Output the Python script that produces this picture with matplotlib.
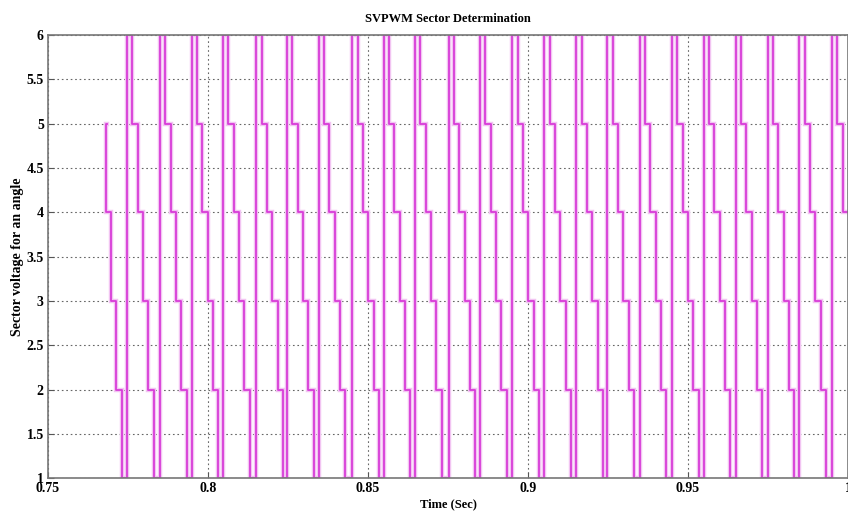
import matplotlib
matplotlib.use("Agg")
import matplotlib.pyplot as plt
import numpy as np

# times (s) where the sector jumps from 1 back to 6
jump_times = [0.7747, 0.7850, 0.7949, 0.8047, 0.8151, 0.8247, 0.8346, 0.8451,
              0.8549, 0.8647, 0.8752, 0.8850, 0.8951, 0.9051, 0.9151, 0.9248,
              0.9349, 0.9450, 0.9549, 0.9649, 0.9749, 0.9848, 0.9950]
sector_order = [6, 5, 4, 3, 2, 1]
period = 0.01
t_start, sector_start = 0.7683, 5
t_end = 1.0

x_ticks = [0.75, 0.8, 0.85, 0.9, 0.95, 1.0]
x_ticklabels = ["0.75", "0.8", "0.85", "0.9", "0.95", "1"]
y_ticks = [1, 1.5, 2, 2.5, 3, 3.5, 4, 4.5, 5, 5.5, 6]
y_ticklabels = ["1", "1.5", "2", "2.5", "3", "3.5", "4", "4.5", "5", "5.5", "6"]

# build the staircase: each sector lasts a sixth of the period
step = period / len(sector_order)
edges = [t_start]
levels = [sector_start]
first = jump_times[0]
for s in range(sector_start - 1, 0, -1):
    edges.append(first - s * step)
    levels.append(s)
for tj in jump_times:
    for i, s in enumerate(sector_order):
        te = tj + i * step
        if te < t_end:
            edges.append(te)
            levels.append(s)
edges.append(t_end)

xs, ys = [], []
for i, lv in enumerate(levels):
    xs += [edges[i], edges[i + 1]]
    ys += [lv, lv]

plt.rcParams["font.family"] = ["Liberation Serif", "DejaVu Serif"]
plt.rcParams["font.weight"] = "bold"

fig = plt.figure(figsize=(8.48, 5.15), dpi=100)
ax = fig.add_axes([0.0566, 0.0713, 0.9434, 0.8608])

# soft halo under the trace, like the blurred original
ax.plot(xs, ys, color="#f2c4f2", linewidth=3.2, solid_joinstyle="miter")
ax.plot(xs, ys, color="#d83cd8", linewidth=1.3)

ax.set_xlim(0.75, 1.0)
ax.set_ylim(1, 6)
ax.set_xticks(x_ticks, x_ticklabels)
ax.set_yticks(y_ticks, y_ticklabels)
ax.tick_params(direction="in", length=4, labelsize=10, color="#555555", pad=3)
ax.grid(True, linestyle=(0, (1.5, 2.5)), color="#666666", linewidth=0.8)
for sp in ax.spines.values():
    sp.set_color("#777777")
    sp.set_linewidth(1.2)

ax.set_title("SVPWM Sector Determination", fontsize=9, fontweight="bold", pad=9)
ax.set_xlabel("Time (Sec)", fontsize=9, fontweight="bold", labelpad=2)
ax.set_ylabel("Sector voltage for an angle", fontsize=10, fontweight="bold", labelpad=2)

fig.savefig("out.png", dpi=100)
